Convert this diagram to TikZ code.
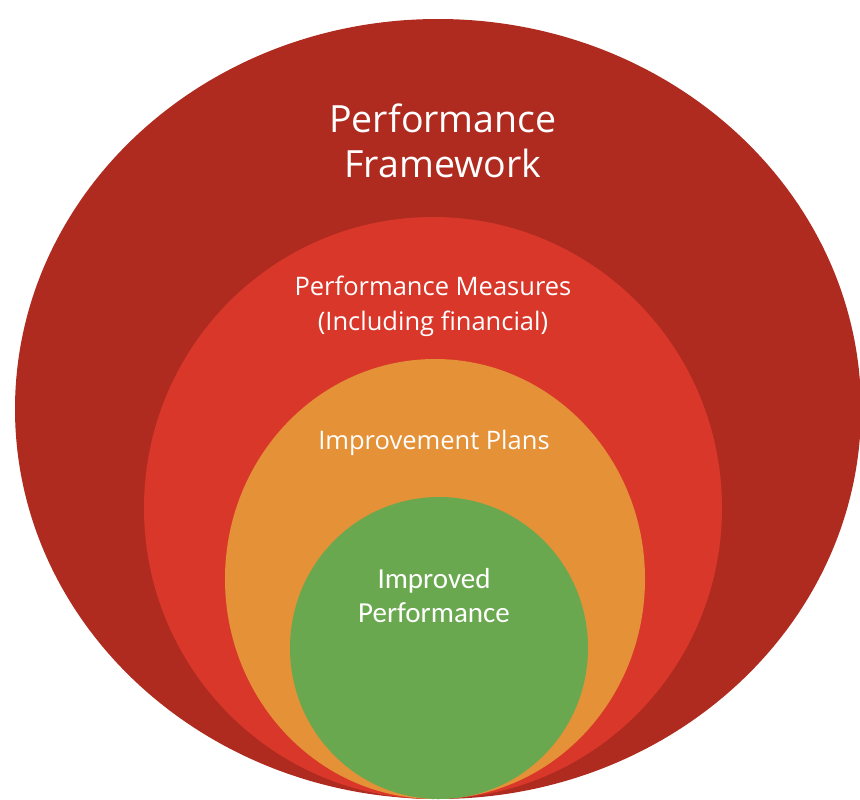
\documentclass[tikz,border=0pt]{standalone}
\usepackage{fontspec}
\setmainfont{Open Sans}
\newfontfamily\calfont{Carlito}
\usepackage{xcolor}
\definecolor{frameRed}{HTML}{AF2B20}
\definecolor{measRed}{HTML}{D9372A}
\definecolor{planOrange}{HTML}{E59137}
\definecolor{perfGreen}{HTML}{6AA84F}
\tikzset{
  label/.style={text=white, align=center, inner sep=0pt},
}

\begin{document}
\begin{tikzpicture}[x=1pt,y=-1pt]
        \useasboundingbox (0,0) rectangle (860,800);
        % Nested ellipses
        \fill[frameRed] (438,409) ellipse (423 and 390);
        \fill[measRed] (433,508) ellipse (289 and 291);
        \fill[planOrange] (435,579) ellipse (210 and 220);
        \fill[perfGreen] (439,648) ellipse (149 and 151);
        % Labels
        \node[label, font=\fontsize{37.5}{45}\selectfont] (frame) at (443,141) {Performance\\Framework};
        \node[label, font=\fontsize{25.5}{35}\selectfont] (measures) at (433,306) {Performance Measures\\(Including financial)};
        \node[label, font=\fontsize{25.5}{30}\selectfont] (plans) at (434,443) {Improvement Plans};
        \node[label, font=\calfont\fontsize{29}{34}\selectfont] (improved) at (434,596) {Improved\\Performance};
    \end{tikzpicture}
\end{document}
